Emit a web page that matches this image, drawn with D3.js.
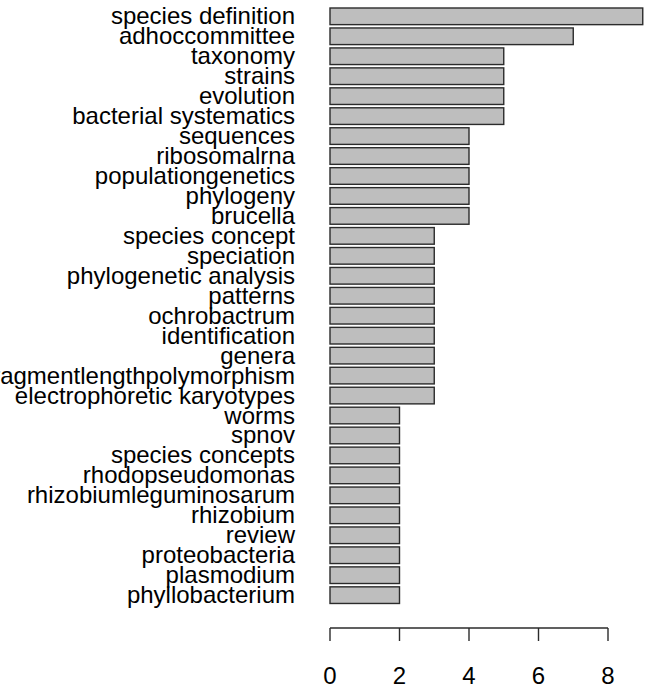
<!DOCTYPE html>
<html>
<head>
<meta charset="utf-8">
<script src="https://cdn.jsdelivr.net/npm/d3@7"></script>
<style>
  body { margin: 0; background: #fff; }
  svg { display: block; }
  text { font-family: "Liberation Sans", Arial, sans-serif; fill: #000; }
</style>
</head>
<body>
<svg id="chart" width="661" height="689"></svg>
<script>
// keywords, top to bottom
const keywords = [
  'species definition', 'adhoccommittee', 'taxonomy', 'strains', 'evolution',
  'bacterial systematics', 'sequences', 'ribosomalrna', 'populationgenetics',
  'phylogeny', 'brucella', 'species concept', 'speciation', 'phylogenetic analysis',
  'patterns', 'ochrobactrum', 'identification', 'genera',
  'amplifiedfragmentlengthpolymorphism', 'electrophoretic karyotypes', 'worms',
  'spnov', 'species concepts', 'rhodopseudomonas', 'rhizobiumleguminosarum',
  'rhizobium', 'review', 'proteobacteria', 'plasmodium', 'phyllobacterium'
];
const counts = [9, 7, 5, 5, 5, 5, 4, 4, 4, 4, 4, 3, 3, 3, 3, 3, 3, 3, 3, 3,
  2, 2, 2, 2, 2, 2, 2, 2, 2, 2];
const xTicks = [0, 2, 4, 6, 8];

const data = keywords.map((k, i) => ({ key: k, value: counts[i] }));

const svg = d3.select('#chart');

const x = d3.scaleLinear().domain([0, 8]).range([330, 608]);

// R barplot: width 1, space 0.2
const step = 19.96;
const y = d3.scaleBand()
  .domain(keywords)
  .range([8, 8 + step * (keywords.length - 0.2 / 1.2)])
  .paddingInner(0.2 / 1.2)
  .paddingOuter(0);

svg.append('g')
  .selectAll('rect')
  .data(data)
  .enter()
  .append('rect')
  .attr('x', x(0))
  .attr('y', (d) => y(d.key))
  .attr('width', (d) => x(d.value) - x(0))
  .attr('height', y.bandwidth())
  .attr('fill', '#bebebe')
  .attr('stroke', '#2b2b2b')
  .attr('stroke-width', 1.4);

// category labels
svg.append('g')
  .selectAll('text')
  .data(data)
  .enter()
  .append('text')
  .attr('x', 295)
  .attr('y', (d) => y(d.key) + y.bandwidth() / 2 + 8)
  .attr('text-anchor', 'end')
  .style('font-size', '24px')
  .text((d) => d.key);

// x axis, R style
const axisY = 628;
const axis = svg.append('g').attr('stroke', '#2b2b2b').attr('stroke-width', 1.4);
axis.append('line')
  .attr('x1', x(xTicks[0]))
  .attr('x2', x(xTicks[xTicks.length - 1]))
  .attr('y1', axisY)
  .attr('y2', axisY);
axis.selectAll('.tick')
  .data(xTicks)
  .enter()
  .append('line')
  .attr('x1', (d) => x(d))
  .attr('x2', (d) => x(d))
  .attr('y1', axisY)
  .attr('y2', axisY + 13);

svg.append('g')
  .selectAll('text')
  .data(xTicks)
  .enter()
  .append('text')
  .attr('x', (d) => x(d))
  .attr('y', 684)
  .attr('text-anchor', 'middle')
  .style('font-size', '24px')
  .text((d) => d);
</script>
</body>
</html>
